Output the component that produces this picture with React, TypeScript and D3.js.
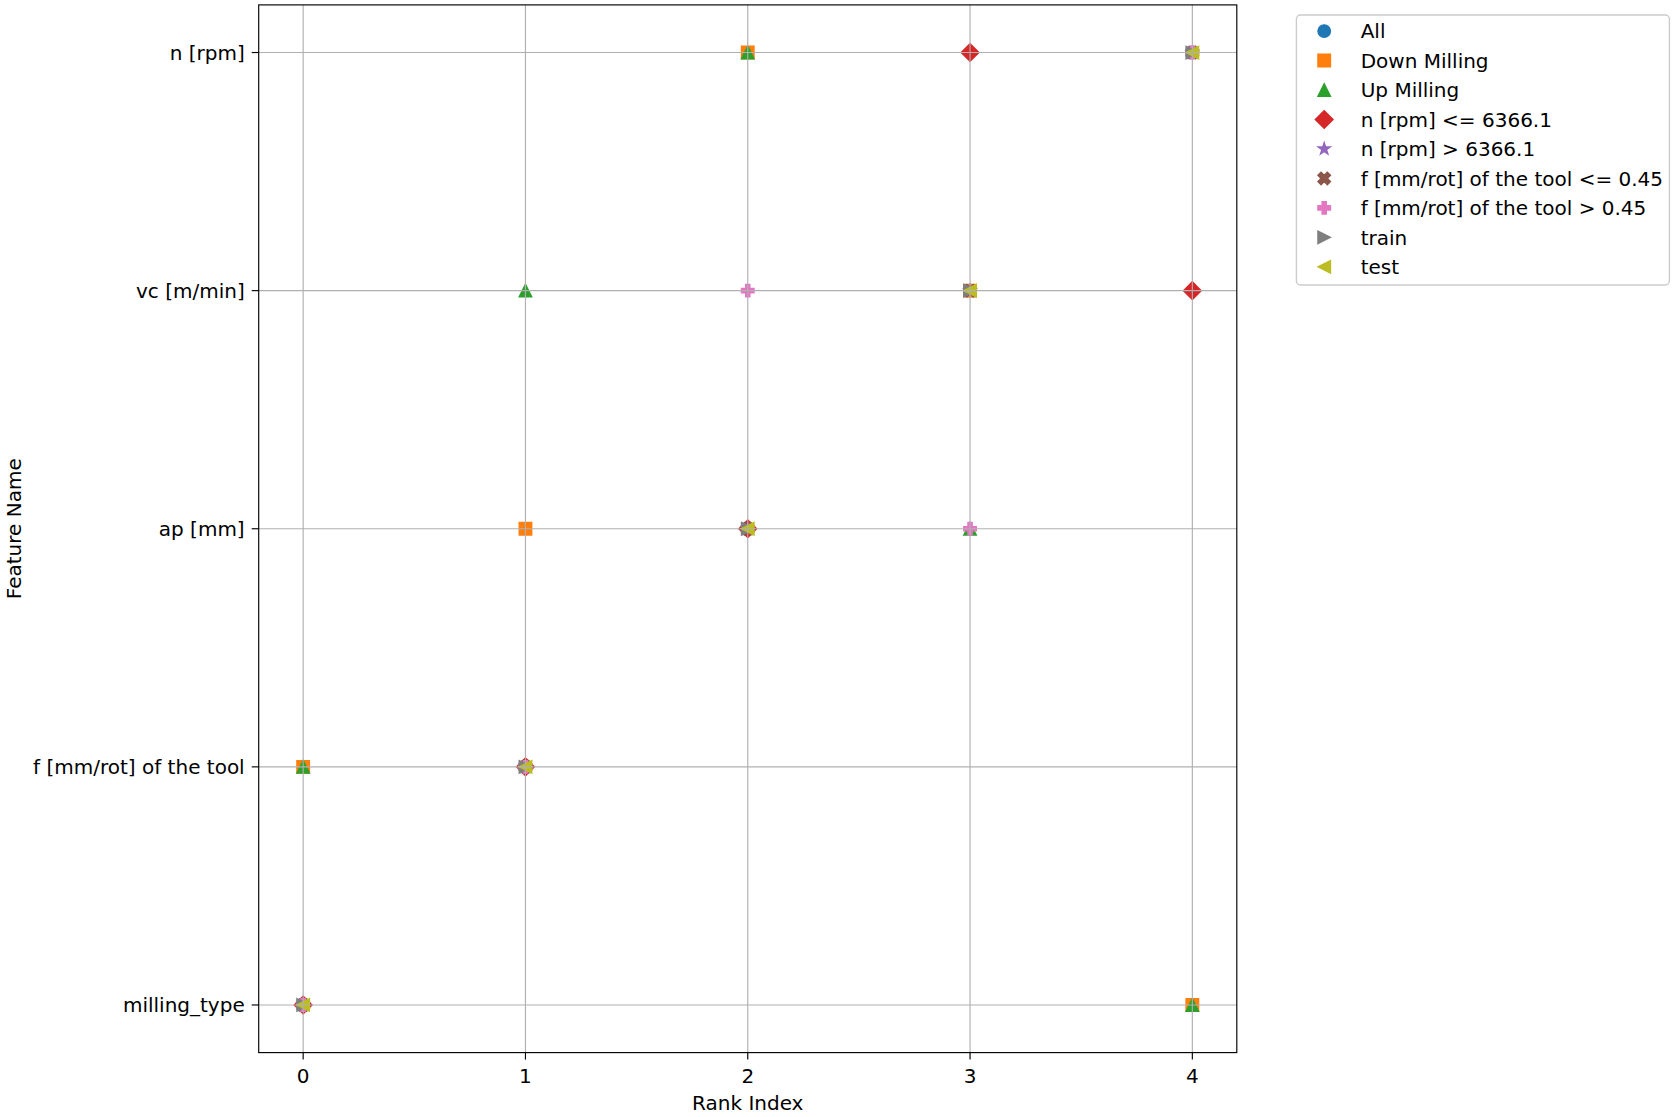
import React from "react";
import * as d3 from "d3";

const features = ["n [rpm]", "vc [m/min]", "ap [mm]", "f [mm/rot] of the tool", "milling_type"];
const rankTicks = [0, 1, 2, 3, 4];

const seriesNames = [
  "All",
  "Down Milling",
  "Up Milling",
  "n [rpm] <= 6366.1",
  "n [rpm] > 6366.1",
  "f [mm/rot] of the tool <= 0.45",
  "f [mm/rot] of the tool > 0.45",
  "train",
  "test",
];
const seriesColors = ["#1f77b4", "#ff7f0e", "#2ca02c", "#d62728", "#9467bd", "#8c564b", "#e377c2", "#7f7f7f", "#bcbd22"];
const seriesMarkers = ["circle", "square", "triangleUp", "diamond", "star", "xFilled", "plusFilled", "triangleRight", "triangleLeft"];

const MT = "milling_type";
const F = "f [mm/rot] of the tool";
const AP = "ap [mm]";
const VC = "vc [m/min]";
const N = "n [rpm]";

// feature at rank index 0..4 for each series
const rankAll = [MT, F, AP, VC, N];
const rankDown = [F, AP, N, VC, MT];
const rankUp = [F, VC, N, AP, MT];
const rankNLow = [MT, F, AP, N, VC];
const rankNHigh = [MT, F, AP, VC, N];
const rankFLow = [MT, F, AP, VC, N];
const rankFHigh = [MT, F, VC, AP, N];
const rankTrain = [MT, F, AP, VC, N];
const rankTest = [MT, F, AP, VC, N];
const seriesRanks = [rankAll, rankDown, rankUp, rankNLow, rankNHigh, rankFLow, rankFHigh, rankTrain, rankTest];

function markerPath(type: string, s: number): string {
  const h = s / 2;
  const poly = (pts: number[][]) => "M" + pts.map((p) => `${p[0].toFixed(3)},${p[1].toFixed(3)}`).join("L") + "Z";
  switch (type) {
    case "circle":
      return d3.symbol(d3.symbolCircle, Math.PI * h * h)() as string;
    case "square":
      return poly([[-h, -h], [h, -h], [h, h], [-h, h]]);
    case "triangleUp":
      return poly([[0, -h], [h, h], [-h, h]]);
    case "triangleRight":
      return poly([[h, 0], [-h, -h], [-h, h]]);
    case "triangleLeft":
      return poly([[-h, 0], [h, -h], [h, h]]);
    case "diamond": {
      const d = h * Math.SQRT2;
      return poly([[0, -d], [d, 0], [0, d], [-d, 0]]);
    }
    case "star": {
      const pts: number[][] = [];
      for (let i = 0; i < 10; i++) {
        const r = i % 2 === 0 ? h : h * 0.381966;
        const a = -Math.PI / 2 + (i * Math.PI) / 5;
        pts.push([r * Math.cos(a), r * Math.sin(a)]);
      }
      return poly(pts);
    }
    case "xFilled": {
      const base = [[-1, -2], [0, -1], [1, -2], [2, -1], [1, 0], [2, 1], [1, 2], [0, 1], [-1, 2], [-2, 1], [-1, 0], [-2, -1]];
      return poly(base.map((p) => [(p[0] * s) / 4, (p[1] * s) / 4]));
    }
    case "plusFilled": {
      const base = [[-1, -3], [1, -3], [1, -1], [3, -1], [3, 1], [1, 1], [1, 3], [-1, 3], [-1, 1], [-3, 1], [-3, -1], [-1, -1]];
      return poly(base.map((p) => [(p[0] * s) / 6, (p[1] * s) / 6]));
    }
  }
  return "";
}

const W = 1680;
const H = 1117;
const left = 258.7;
const right = 1236.8;
const top = 4.9;
const bottom = 1052.6;
const FONT = "DejaVu Sans, sans-serif";
const FS = 20;
const MS = 12.5;
const MSW = 1.4;
const GRID = "#b0b0b0";
const LW = 1.15;

export default function App() {
  const x = d3.scaleLinear().domain([-0.2, 4.2]).range([left, right]);
  const y = d3.scalePoint<string>().domain(features).range([top, bottom]).padding(0.2);

  const legendX = 1296.4;
  const legendY = 15;
  const legendW = 373;
  const legendH = 270;
  const rowH = 29.46;
  const firstRow = 31.1;

  return (
    <svg width={W} height={H} style={{ position: "absolute", left: 0, top: 0, background: "#fff" }} fontFamily={FONT}>
      <rect x={0} y={0} width={W} height={H} fill="#fff" />
      {/* markers */}
      {seriesRanks.map((ranks, si) => (
        <g key={si}>
          {ranks.map((feat, ri) => (
            <path
              key={ri}
              d={markerPath(seriesMarkers[si], MS)}
              transform={`translate(${x(ri)},${y(feat)})`}
              fill={seriesColors[si]}
              stroke={seriesColors[si]}
              strokeWidth={MSW}
              strokeLinejoin="miter"
            />
          ))}
        </g>
      ))}
      {/* grid (drawn above scatter as in matplotlib) */}
      {rankTicks.map((t) => (
        <line key={"gx" + t} x1={x(t)} x2={x(t)} y1={top} y2={bottom} stroke={GRID} strokeWidth={LW} />
      ))}
      {features.map((f) => (
        <line key={"gy" + f} x1={left} x2={right} y1={y(f)} y2={y(f)} stroke={GRID} strokeWidth={LW} />
      ))}
      {/* spines */}
      <rect x={left} y={top} width={right - left} height={bottom - top} fill="none" stroke="#000" strokeWidth={LW} />
      {/* x ticks */}
      {rankTicks.map((t) => (
        <g key={"xt" + t}>
          <line x1={x(t)} x2={x(t)} y1={bottom} y2={bottom + 7} stroke="#000" strokeWidth={LW} />
          <text x={x(t)} y={1083} textAnchor="middle" fontSize={FS} fill="#000">
            {t}
          </text>
        </g>
      ))}
      {/* y ticks */}
      {features.map((f) => (
        <g key={"yt" + f}>
          <line x1={left - 7} x2={left} y1={y(f)} y2={y(f)} stroke="#000" strokeWidth={LW} />
          <text x={left - 14} y={(y(f) as number) + 7.2} textAnchor="end" fontSize={FS} fill="#000">
            {f}
          </text>
        </g>
      ))}
      {/* axis labels */}
      <text x={(left + right) / 2} y={1109.5} textAnchor="middle" fontSize={FS} fill="#000">
        Rank Index
      </text>
      <text
        transform={`translate(${20.5},${(top + bottom) / 2}) rotate(-90)`}
        textAnchor="middle"
        fontSize={FS}
        fill="#000"
      >
        Feature Name
      </text>
      {/* legend */}
      <rect x={legendX} y={legendY} width={legendW} height={legendH} rx={4} ry={4} fill="#fff" fillOpacity={0.8} stroke="#cccccc" strokeWidth={1.4} />
      {seriesNames.map((name, i) => {
        const cy = firstRow + i * rowH;
        return (
          <g key={"lg" + i}>
            <path
              d={markerPath(seriesMarkers[i], MS)}
              transform={`translate(${1324.2},${cy})`}
              fill={seriesColors[i]}
              stroke={seriesColors[i]}
              strokeWidth={MSW}
            />
            <text x={1360.7} y={cy + 7.2} fontSize={FS} fill="#000">
              {name}
            </text>
          </g>
        );
      })}
    </svg>
  );
}
